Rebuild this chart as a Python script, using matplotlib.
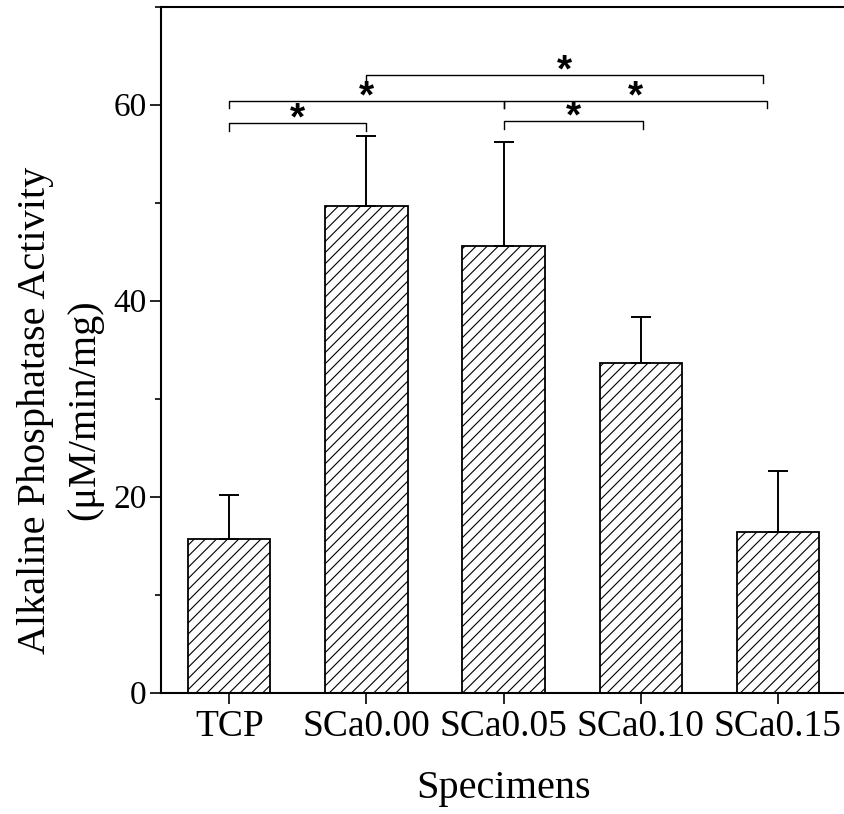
import numpy as np
import matplotlib.pyplot as plt
from matplotlib.ticker import MultipleLocator

# ALP activity per specimen (mean and upper SD)
specimens = ['TCP', 'SCa0.00', 'SCa0.05', 'SCa0.10', 'SCa0.15']
alp_mean = [15.7, 49.7, 45.6, 33.6, 16.4]
alp_err = [4.5, 7.1, 10.6, 4.7, 6.2]

# significance brackets (start, end, height), all marked "*"
sig_start = [0.0, 0.0, 2.0, 1.0, 2.0]
sig_end = [1.0, 2.0, 3.92, 3.89, 3.02]
sig_height = [58.1, 60.4, 60.4, 63.0, 58.3]

plt.rcParams['font.family'] = 'Liberation Serif'
plt.rcParams['hatch.linewidth'] = 0.8

fig = plt.figure(figsize=(8.44, 8.14), dpi=100)
ax = fig.add_axes([160.7 / 844, 121.3 / 814, 685.7 / 844, 686 / 814])

x = np.arange(len(specimens))
ax.bar(x, alp_mean, width=0.6, color='white', edgecolor='black',
       hatch='///', linewidth=1.3, zorder=2)
ax.errorbar(x, alp_mean, yerr=[np.zeros(len(x)), alp_err], fmt='none',
            ecolor='black', elinewidth=1.4, capsize=7.5, capthick=1.4, zorder=3)

# brackets
drop = 0.75
fs = 28
for x1, x2, h in zip(sig_start, sig_end, sig_height):
    ax.plot([x1, x1, x2, x2], [h - drop, h, h, h - drop], color='black',
            lw=1.0, zorder=3)
    ax.annotate('*', ((x1 + x2) / 2, h + 1.15), xytext=(0, -0.45 * fs),
                textcoords='offset points', ha='center', va='baseline',
                fontsize=fs, fontweight='bold', family='Liberation Sans')

ax.set_xlim(-0.5, 4.5)
ax.set_ylim(0, 70)
ax.set_xticks(x)
ax.set_xticklabels(specimens)
ax.set_yticks([0, 20, 40, 60])
ax.yaxis.set_minor_locator(MultipleLocator(10))

ax.tick_params(axis='x', which='major', direction='out', length=8, width=1.2,
               labelsize=27, pad=4, top=False)
ax.tick_params(axis='y', which='major', direction='out', length=8, width=1.2,
               labelsize=24, pad=2, right=False)
ax.tick_params(axis='y', which='minor', direction='out', length=4.5, width=1.2,
               right=False)
for s in ax.spines.values():
    s.set_linewidth(1.5)

ax.set_xlabel('Specimens', fontsize=29, labelpad=19)

# two-line y label
fig.text(45 / 844, 1 - 410 / 814, 'Alkaline Phosphatase Activity', rotation=90,
         rotation_mode='anchor', ha='center', va='baseline', fontsize=29)
fig.text(94 / 844, 1 - 410 / 814, '(\u03bcM/min/mg)', rotation=90,
         rotation_mode='anchor', ha='center', va='baseline', fontsize=29)

fig.savefig('out.png', dpi=100)
